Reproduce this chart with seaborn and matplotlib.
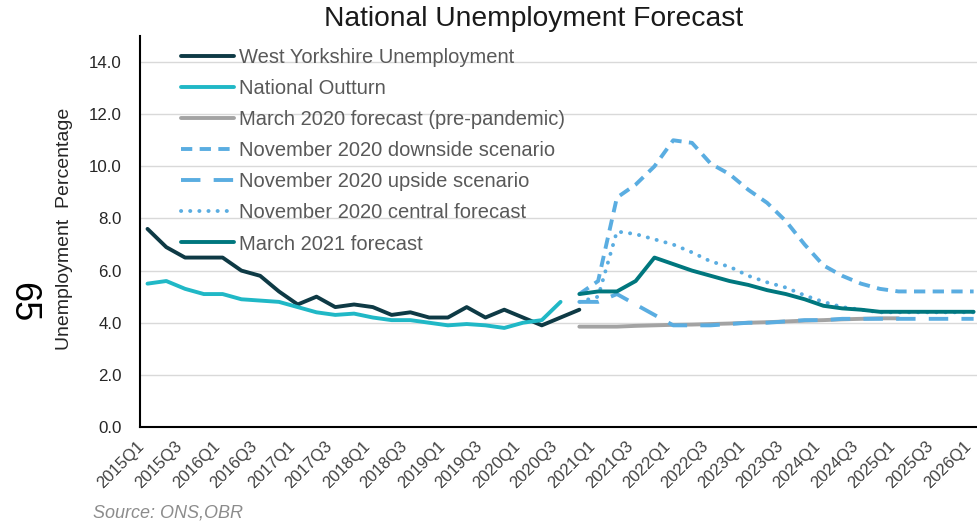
import matplotlib
matplotlib.use("Agg")
import matplotlib.pyplot as plt
import seaborn as sns
import pandas as pd
import numpy as np

# ---------------- data ----------------
quarters = [f"{y}Q{q}" for y in range(2015, 2027) for q in range(1, 5)][:45]

west_yorkshire = [7.6, 6.9, 6.5, 6.5, 6.5, 6.0, 5.8, 5.2, 4.7, 5.0, 4.6, 4.7,
                  4.6, 4.3, 4.4, 4.2, 4.2, 4.6, 4.2, 4.5, 4.2, 3.9, 4.2, 4.5]
national_outturn = [5.5, 5.6, 5.3, 5.1, 5.1, 4.9, 4.85, 4.8, 4.6, 4.4, 4.3, 4.35,
                    4.2, 4.1, 4.1, 4.0, 3.9, 3.95, 3.9, 3.8, 4.0, 4.1, 4.8]
# forecasts start at 2020Q4
forecast_start = "2020Q4"
march2020 = [3.85, 3.85, 3.85, 3.88, 3.9, 3.92, 3.93, 3.95, 3.97, 4.0, 4.02,
             4.05, 4.08, 4.1, 4.13, 4.15, 4.17, 4.17]
nov2020_downside = [5.1, 5.6, 8.8, 9.3, 10.0, 11.0, 10.9, 10.1, 9.7, 9.1, 8.6,
                    7.9, 7.0, 6.2, 5.8, 5.5, 5.3, 5.2, 5.2, 5.2, 5.2, 5.2]
nov2020_upside = [4.8, 4.8, 5.1, 4.7, 4.3, 3.9, 3.9, 3.9, 3.95, 4.0, 4.0,
                  4.05, 4.1, 4.1, 4.15, 4.15, 4.15, 4.15, 4.15, 4.15, 4.15, 4.15]
nov2020_central = [4.8, 5.0, 7.5, 7.4, 7.2, 7.0, 6.7, 6.35, 6.15, 5.8, 5.55,
                   5.35, 5.05, 4.8, 4.6, 4.5, 4.4, 4.4, 4.4, 4.4, 4.4, 4.4]
march2021 = [5.1, 5.2, 5.2, 5.6, 6.5, 6.25, 6.0, 5.8, 5.6, 5.45, 5.25,
             5.1, 4.9, 4.65, 4.55, 4.5, 4.42, 4.42, 4.42, 4.42, 4.42, 4.42]

y_ticks = [0, 2, 4, 6, 8, 10, 12, 14]

# ---------------- styling ----------------
sns.set_theme(style="white")
plt.rcParams["font.family"] = ["Liberation Sans", "DejaVu Sans"]

W, H = 977, 524
fig = plt.figure(figsize=(W / 100, H / 100), dpi=100)
ax = fig.add_axes([140 / W, 97 / H, 1 - 140 / W, (427 - 36) / H])

s0 = quarters.index(forecast_start)

def series(vals, start=0):
    return pd.DataFrame({"x": np.arange(start, start + len(vals)), "y": vals})

LW = 2.8
specs = [
    ("West Yorkshire Unemployment", west_yorkshire, 0, "#0E3A45", "-"),
    ("National Outturn", national_outturn, 0, "#20B8C6", "-"),
    ("March 2020 forecast (pre-pandemic)", march2020, s0, "#A3A3A3", "-"),
    ("November 2020 downside scenario", nov2020_downside, s0, "#5AADE1", (0, (2.9, 1.9))),
    ("November 2020 upside scenario", nov2020_upside, s0, "#5AADE1", (0, (5.0, 3.4))),
    ("November 2020 central forecast", nov2020_central, s0, "#5AADE1", (0, (0.05, 2.3))),
    ("March 2021 forecast", march2021, s0, "#00777E", "-"),
]

for label, vals, start, color, ls in specs:
    df = series(vals, start)
    sns.lineplot(data=df, x="x", y="y", ax=ax, color=color, lw=LW,
                 linestyle=ls, label=label)

for line in ax.get_lines():
    line.set_solid_capstyle("round")
    line.set_solid_joinstyle("round")
    line.set_dash_joinstyle("round")
lines = ax.get_lines()
lines[5].set_dash_capstyle("round")
lines[3].set_dash_capstyle("butt")
lines[4].set_dash_capstyle("butt")

ax.set_xlim(-0.4, 44.18)
ax.set_ylim(0, 15)
ax.set_yticks(y_ticks)
ax.set_yticklabels([f"{v:.1f}" for v in y_ticks], fontsize=12.2, color="#262626")
ax.set_xticks(np.arange(0, len(quarters), 2))
ax.set_xticklabels(quarters[::2], rotation=45, ha="right", fontsize=12,
                   color="#404040")
ax.tick_params(axis="y", length=0, pad=13)
ax.tick_params(axis="x", length=0, pad=8)

ax.grid(axis="y", color="#D9D9D9", lw=1.0)
ax.set_axisbelow(True)
for side in ["top", "right"]:
    ax.spines[side].set_visible(False)
for side in ["left", "bottom"]:
    ax.spines[side].set_color("black")
    ax.spines[side].set_linewidth(1.5)

ax.set_xlabel("")
ax.set_ylabel("Unemployment  Percentage", fontsize=14, color="#262626")
ax.yaxis.set_label_coords((73 - 140) / (W - 140), (427 - 229) / (427 - 36))

leg = ax.legend(loc="upper left", bbox_to_anchor=(181 / W, 1 - 48 / H),
                bbox_transform=fig.transFigure, frameon=False, fontsize=14.5,
                handlelength=2.65, handletextpad=0.25, labelspacing=0.6,
                borderpad=0, borderaxespad=0)
for t in leg.get_texts():
    t.set_color("#595959")

fig.text(534 / W, 1 - 19 / H, "National Unemployment Forecast", ha="center",
         va="center", fontsize=20.3, color="#1A1A1A")
fig.text(23 / W, 1 - 302 / H, "65", rotation=270, ha="center", va="center",
         fontsize=26, color="black")
fig.text(93 / W, 1 - 513 / H, "Source: ONS,OBR", ha="left", va="center",
         fontsize=13, style="italic", color="#8C8C8C")

fig.savefig("out.png", dpi=100)
